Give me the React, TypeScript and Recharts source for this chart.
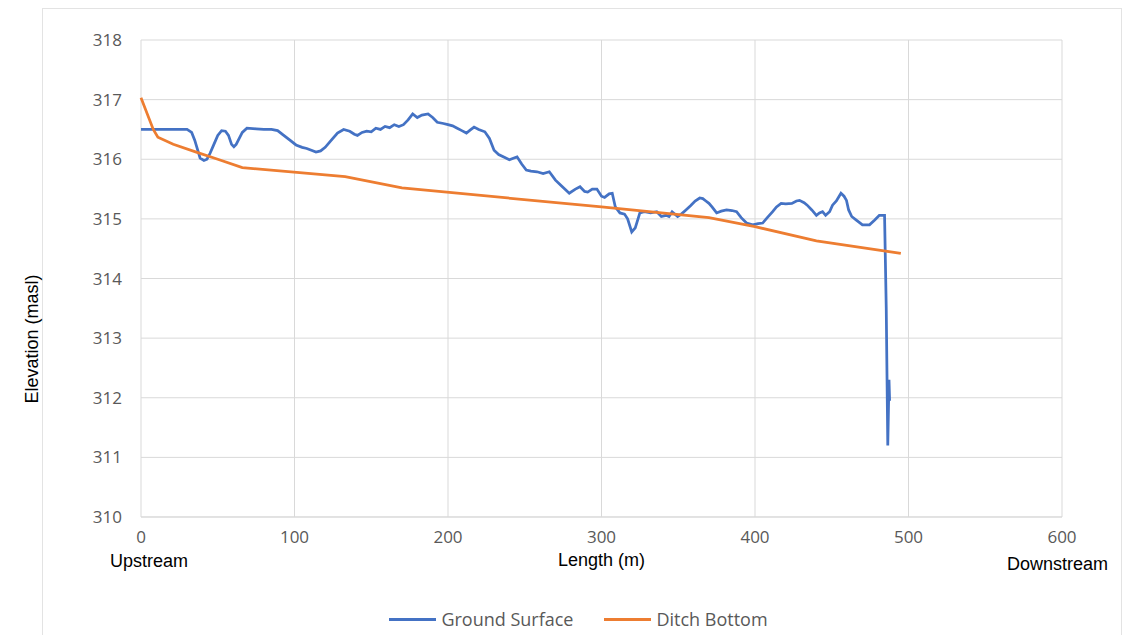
import React from "react";
import { LineChart, Line, XAxis, YAxis, CartesianGrid, Legend } from "recharts";

// length (m) / elevation (masl) read from the profile
const groundLength = [
  0, 10, 20, 30, 33, 35, 37, 38.5, 41, 43, 45, 47, 50, 52.5, 55, 57, 59, 60.5, 62, 64, 66, 69, 75, 80, 85, 89, 93, 97,
  101, 105, 108, 111, 114, 117, 120, 124, 128, 132, 136, 139, 141, 144, 147, 150, 153, 156, 159, 162, 165, 168, 171,
  174, 177, 180, 183, 187, 190, 193, 197, 200, 203, 206, 209, 212, 215, 217, 220, 224, 227, 230, 233, 237, 240, 243,
  245, 248, 251, 254, 258, 262, 266, 270, 274, 279, 283, 286, 289, 291, 294, 297, 300, 302, 305, 307, 309, 312, 315,
  317, 319.7, 322, 325, 328, 332, 336, 339, 342, 344, 346, 349.6, 352, 355, 358, 361, 364, 366, 368, 370, 372, 375,
  378, 381.5, 385, 388, 391, 394.5, 398.5, 402, 405, 408, 411.5, 414, 417, 420, 424, 427, 429, 432, 434, 437, 440,
  442, 444, 446, 448.6, 450.5, 453, 456, 458, 459.6, 461, 463, 466, 470, 474.6, 478, 481, 484.4, 485.5, 486.5, 487.3,
  487.7,
];
const groundElev = [
  316.5, 316.5, 316.5, 316.5, 316.45, 316.32, 316.15, 316.02, 315.98, 316.0, 316.1, 316.22, 316.4, 316.48, 316.47,
  316.4, 316.25, 316.21, 316.25, 316.35, 316.45, 316.52, 316.51, 316.5, 316.5, 316.48, 316.4, 316.32, 316.24, 316.2,
  316.18, 316.15, 316.12, 316.14, 316.2, 316.32, 316.44, 316.5, 316.47, 316.42, 316.4, 316.45, 316.47, 316.46, 316.52,
  316.5, 316.55, 316.53, 316.58, 316.55, 316.58, 316.66, 316.76, 316.7, 316.74, 316.76, 316.7, 316.62, 316.6, 316.58,
  316.56, 316.52, 316.48, 316.44, 316.5, 316.54, 316.5, 316.46, 316.35, 316.15, 316.08, 316.03, 315.99, 316.02,
  316.04, 315.92, 315.82, 315.8, 315.79, 315.76, 315.79, 315.65, 315.55, 315.43, 315.5, 315.54, 315.46, 315.45, 315.5,
  315.5, 315.38, 315.36, 315.42, 315.43, 315.2, 315.1, 315.08, 315.0, 314.78, 314.85, 315.1, 315.12, 315.1, 315.12,
  315.04, 315.06, 315.04, 315.12, 315.04, 315.08, 315.15, 315.22, 315.3, 315.35, 315.34, 315.3, 315.26, 315.2, 315.1,
  315.13, 315.15, 315.14, 315.12, 315.02, 314.93, 314.9, 314.92, 314.93, 315.02, 315.12, 315.2, 315.26, 315.25,
  315.26, 315.3, 315.31, 315.27, 315.23, 315.15, 315.06, 315.1, 315.12, 315.06, 315.12, 315.23, 315.3, 315.43, 315.38,
  315.31, 315.15, 315.04, 314.98, 314.9, 314.9, 314.98, 315.06, 315.06, 313.5, 311.2, 312.3, 311.95,
];

const ditchLength = [0, 8, 11, 21, 36, 50, 66, 133, 170, 300, 370, 400, 440, 495];
const ditchElev = [317.03, 316.5, 316.37, 316.25, 316.12, 316.0, 315.86, 315.71, 315.52, 315.2, 315.02, 314.87, 314.63, 314.42];

const xTicks = [0, 100, 200, 300, 400, 500, 600];
const yTicks = [310, 311, 312, 313, 314, 315, 316, 317, 318];
const legendOrder = ["Ground Surface", "Ditch Bottom"];

const ground = groundLength.map((x, i) => ({ x, y: groundElev[i] }));
const ditch = ditchLength.map((x, i) => ({ x, y: ditchElev[i] }));

const tickStyle = { fontSize: 17, fill: "#595959", fontFamily: "'Open Sans', sans-serif" };
const labelFont = "'Liberation Sans', Arial, sans-serif";

const LegendBox = (props: any) => {
  const items = [...(props.payload || [])].sort(
    (a: any, b: any) => legendOrder.indexOf(a.value) - legendOrder.indexOf(b.value)
  );
  return (
    <div
      style={{
        height: 20,
        display: "flex",
        justifyContent: "center",
        alignItems: "center",
        gap: 31,
        paddingLeft: 14,
        fontFamily: "'Open Sans', sans-serif",
        fontSize: 18,
        color: "#595959",
      }}
    >
      {items.map((it: any) => (
        <div key={it.value} style={{ display: "flex", alignItems: "center" }}>
          <span style={{ display: "inline-block", width: 47, height: 3, background: it.color, marginRight: 5 }} />
          {it.value}
        </div>
      ))}
    </div>
  );
};

export default function App() {
  return (
    <div style={{ position: "absolute", left: 0, top: 0, width: 1125, height: 635, background: "#fff", overflow: "hidden" }}>
      <div
        style={{
          position: "absolute",
          left: 42,
          top: 8,
          width: 1078,
          height: 640,
          borderLeft: "1px solid #e3e3e3",
          borderTop: "1px solid #e3e3e3",
          borderRight: "1px solid #e3e3e3",
        }}
      />
      <LineChart width={1125} height={635} margin={{ top: 40, right: 63, bottom: 68, left: 81 }}>
        <CartesianGrid stroke="#d9d9d9" strokeWidth={1} />
        <XAxis
          type="number"
          dataKey="x"
          domain={[0, 600]}
          ticks={xTicks}
          tick={tickStyle}
          tickLine={false}
          axisLine={{ stroke: "#d9d9d9" }}
          height={30}
          tickMargin={8}
        />
        <YAxis
          type="number"
          dataKey="y"
          domain={[310, 318]}
          ticks={yTicks}
          tick={tickStyle}
          tickLine={false}
          axisLine={false}
          width={60}
          tickMargin={13}
        />
        <Legend verticalAlign="bottom" align="center" content={LegendBox} wrapperStyle={{ bottom: 6 }} />
        <Line data={ground} dataKey="y" name="Ground Surface" type="linear" stroke="#4472C4" strokeWidth={2.75} dot={false} isAnimationActive={false} />
        <Line data={ditch} dataKey="y" name="Ditch Bottom" type="linear" stroke="#ED7D31" strokeWidth={2.75} dot={false} isAnimationActive={false} />
      </LineChart>
      <div style={{ position: "absolute", left: 110, top: 551, fontFamily: labelFont, fontSize: 18, color: "#000" }}>Upstream</div>
      <div style={{ position: "absolute", left: 558, top: 550, fontFamily: labelFont, fontSize: 18, color: "#000" }}>Length (m)</div>
      <div style={{ position: "absolute", left: 1007, top: 554, fontFamily: labelFont, fontSize: 18, color: "#000" }}>Downstream</div>
      <div
        style={{
          position: "absolute",
          left: 31.5,
          top: 339,
          transform: "translate(-50%, -50%) rotate(-90deg)",
          whiteSpace: "nowrap",
          fontFamily: labelFont,
          fontSize: 18,
          color: "#000",
        }}
      >
        Elevation (masl)
      </div>
    </div>
  );
}
